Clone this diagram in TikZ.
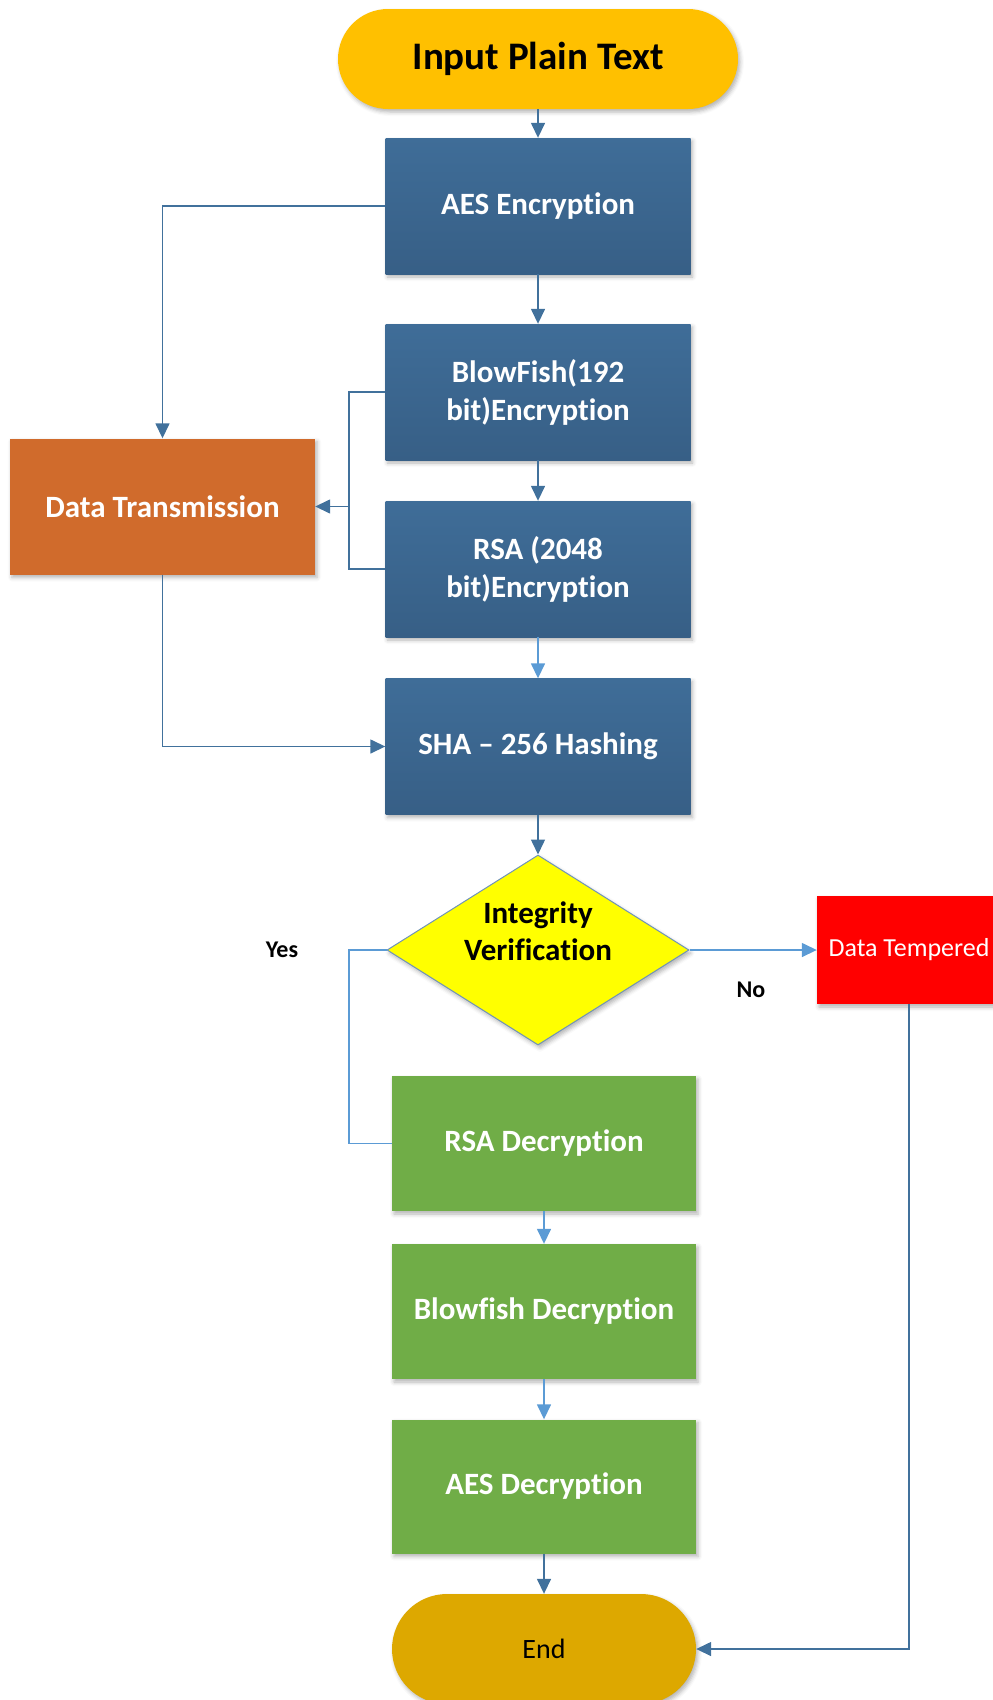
\documentclass[tikz,border=0pt]{standalone}
\usepackage{fontspec}
\setmainfont{Carlito}[Ligatures=NoCommon]
\usetikzlibrary{shapes.geometric,arrows.meta,shadows.blur}

\definecolor{startfill}{HTML}{FFC000}
\definecolor{endfill}{HTML}{DDA800}
\definecolor{encTop}{HTML}{3F6D98}
\definecolor{encBot}{HTML}{375F86}
\definecolor{sendfill}{HTML}{D06B2C}
\definecolor{decfill}{HTML}{70AD47}
\definecolor{alertfill}{HTML}{FF0000}
\definecolor{checkfill}{HTML}{FFFF00}
\definecolor{checkedge}{HTML}{6F93B8}
\definecolor{lineD}{HTML}{41719C}
\definecolor{lineL}{HTML}{5B9BD5}

\begin{document}
\begin{tikzpicture}[x=1pt,y=-1pt,
  shade/.style={blur shadow={shadow xshift=2pt,shadow yshift=-3pt,shadow blur radius=4pt,shadow opacity=30}},
  box/.style={rectangle, minimum width=305pt, minimum height=136pt, inner sep=0pt,
    align=center, text=white, font=\fontsize{31}{38}\selectfont\bfseries, shade},
  encbox/.style={box, top color=encTop, bottom color=encBot},
  decbox/.style={box, fill=decfill},
  term/.style={rectangle, inner sep=0pt, align=center, shade},
  conn/.style={draw=lineD, line width=1.5pt},
  arr/.style={conn, -{Triangle[length=15pt,width=14pt]}},
  lite/.style={draw=lineL},
  lbl/.style={font=\fontsize{24}{28}\selectfont\bfseries, text=black}
]
\useasboundingbox (0,0) rectangle (993,1700);

% process nodes
\node[term, fill=startfill, minimum width=400pt, minimum height=100pt, rounded corners=50pt,
      font=\fontsize{39}{44}\selectfont\bfseries] (in) at (538,59) {Input Plain Text};
\node[encbox] (aes) at (538,206) {AES Encryption};
\node[encbox] (bf) at (538,392) {BlowFish(192\\bit)Encryption};
\node[encbox] (rsa) at (538,569) {RSA (2048\\bit)Encryption};
\node[encbox] (sha) at (538,746.5) {SHA – 256 Hashing};
\node[box, fill=sendfill] (dt) at (162.5,506.5) {Data Transmission};

% integrity check
\node[diamond, fill=checkfill, draw=checkedge, line width=1pt, inner sep=0pt,
      minimum width=302pt, minimum height=190pt, shade] (iv) at (538,950) {};
\node[align=center, font=\fontsize{31}{37}\selectfont\bfseries] (ivt) at (538,931) {Integrity\\Verification};
\node[rectangle, fill=alertfill, minimum width=184pt, minimum height=108pt, inner sep=0pt,
      text=white, font=\fontsize{26}{30}\selectfont, shade] (tmp) at (909,950) {Data Tempered};

% decryption chain
\node[decbox, minimum width=304pt, minimum height=135pt] (rsad) at (544,1143.5) {RSA Decryption};
\node[decbox, minimum width=304pt, minimum height=135pt] (bfd) at (544,1311.5) {Blowfish Decryption};
\node[decbox, minimum width=304pt, minimum height=134pt] (aesd) at (544,1486.5) {AES Decryption};
\node[term, fill=endfill, minimum width=304pt, minimum height=110pt, rounded corners=55pt,
      font=\fontsize{28}{32}\selectfont] (end) at (544,1649) {End};

% branch labels
\node[lbl] (yes) at (282,950) {Yes};
\node[lbl] (no) at (751,990) {No};

% junction points
\coordinate (bus) at (349,506.5);
\coordinate (ybus) at (349,950);

% connectors
\draw[arr] (in.south) -- (aes.north);
\draw[arr] (aes.south) -- (bf.north);
\draw[arr] (bf.south) -- (rsa.north);
\draw[arr, lite] (rsa.south) -- (sha.north);
\draw[arr] (sha.south) -- (iv.north);
\draw[arr] (aes.west) -| (dt.north);
\draw[conn] (bf.west) -| (bus) |- (rsa.west);
\draw[arr] (bus) -- (dt.east);
\draw[arr] (dt.south) |- (sha.west);
\draw[arr, lite] (iv.east) -- (tmp.west);
\draw[conn, lite] (iv.west) -- (ybus) |- (rsad.west);
\draw[arr, lite] (rsad.south) -- (bfd.north);
\draw[arr, lite] (bfd.south) -- (aesd.north);
\draw[arr] (aesd.south) -- (end.north);
\draw[arr] (tmp.south) |- (end.east);
\end{tikzpicture}
\end{document}
